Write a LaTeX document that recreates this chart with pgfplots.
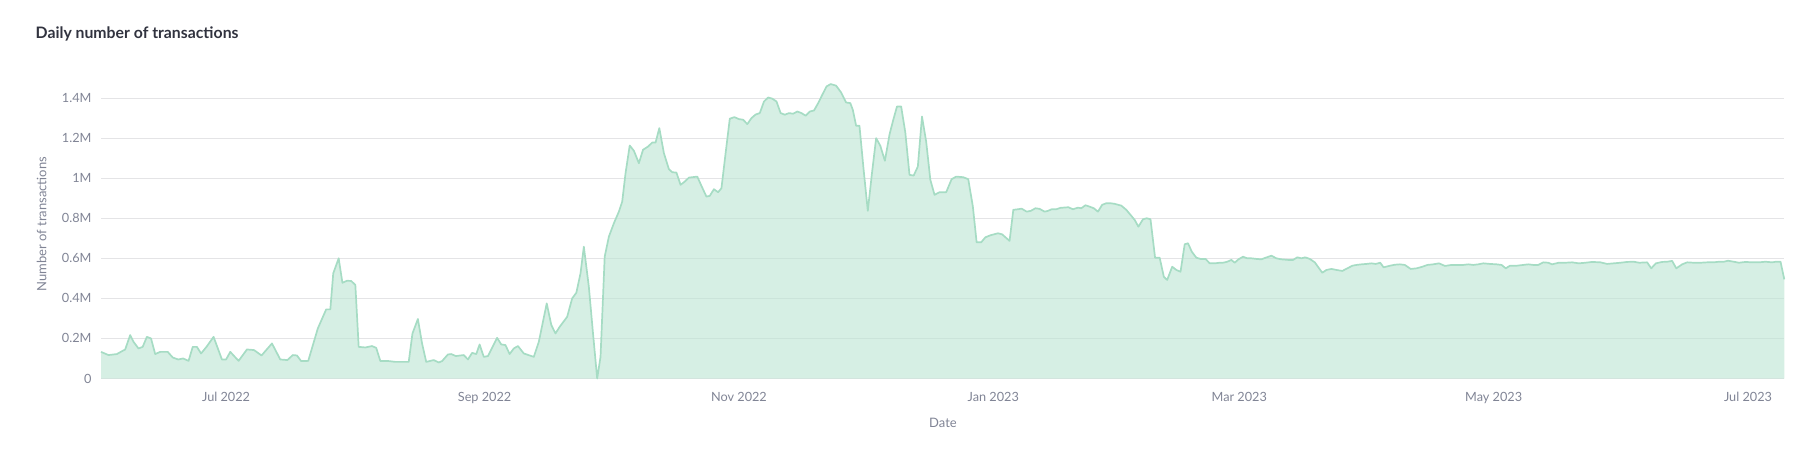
\documentclass[border=0pt]{standalone}
\usepackage{fontspec}
\setmainfont{Lato}
\usepackage{pgfplots}
\pgfplotsset{compat=1.18}
\usepackage{pgfplotstable}
\definecolor{titlec}{RGB}{49,51,63}
\definecolor{labc}{RGB}{128,132,149}
\definecolor{gridc}{RGB}{228,228,230}
\definecolor{fillc}{RGB}{187,228,210}
\definecolor{linec}{RGB}{166,220,196}

\pgfplotstableread{
day val
0 0.133
1.8 0.117
3.8 0.122
5.8 0.145
7 0.217
7.8 0.183
9 0.15
10 0.158
11 0.208
12 0.2
13 0.122
14.2 0.133
16 0.133
17.2 0.105
18.5 0.095
19.7 0.1
21 0.088
22 0.158
23 0.158
24 0.125
25.3 0.158
27 0.208
29 0.095
30 0.095
31 0.133
33 0.088
35 0.145
36.7 0.142
38.5 0.115
41 0.175
43 0.095
44.7 0.092
46 0.117
47 0.115
48 0.087
49.7 0.088
52 0.25
54 0.345
55 0.345
55.7 0.525
57 0.6
57.9 0.478
59 0.488
60 0.487
61 0.467
61.8 0.158
63.4 0.155
65 0.162
66 0.153
67 0.087
69 0.087
70.6 0.083
73.8 0.083
74.7 0.225
76 0.297
77 0.175
78 0.083
79.8 0.092
81 0.08
81.8 0.087
83.2 0.12
84 0.122
85.1 0.112
87 0.117
88 0.095
89 0.128
90 0.122
90.8 0.17
91.8 0.108
92.8 0.112
95 0.203
96 0.17
97 0.167
98 0.122
99 0.15
100 0.162
101.4 0.125
103.8 0.108
105 0.183
106.9 0.375
108 0.267
109 0.225
110 0.258
111.8 0.308
113 0.4
114 0.428
115 0.525
115.8 0.658
117 0.458
118 0.225
119 0.0
119.8 0.108
120.8 0.608
121.8 0.708
123 0.775
124.2 0.833
125 0.883
125.8 1.025
126.8 1.163
127.8 1.137
129 1.075
130 1.142
131.2 1.158
132.2 1.178
133 1.178
133.9 1.25
135 1.125
136.2 1.045
137 1.03
138 1.028
139 0.967
140 0.983
141 1.003
143 1.008
144 0.962
145.2 0.908
146 0.912
147 0.945
148 0.93
148.8 0.95
149.8 1.125
150.8 1.297
151.9 1.305
153 1.295
154 1.292
155 1.27
156 1.3
157 1.318
158 1.325
159 1.383
160 1.403
161 1.397
162 1.383
163 1.325
164 1.317
165 1.325
166 1.322
167 1.333
168 1.325
169 1.312
170 1.333
171 1.338
172 1.375
173 1.417
174 1.458
175 1.47
176.3 1.462
177.5 1.428
178.7 1.378
179.7 1.375
180.3 1.342
181.1 1.262
181.9 1.262
182.9 1.042
183.9 0.837
184.9 1.025
185.9 1.2
186.9 1.162
188 1.087
189.1 1.217
189.9 1.283
190.9 1.358
191.9 1.358
192.9 1.228
193.9 1.017
194.9 1.013
195.9 1.058
196.9 1.308
197.9 1.183
198.9 0.992
199.9 0.917
201.1 0.93
202.7 0.93
204 0.995
205.1 1.008
206.8 1.005
208 0.995
209.1 0.858
210 0.68
211.1 0.68
212.1 0.705
213.3 0.715
215.1 0.725
216.1 0.72
217.9 0.687
218.8 0.842
219.9 0.845
220.8 0.848
222 0.833
223 0.837
224.1 0.85
225.1 0.847
226.3 0.833
227.1 0.837
228 0.845
229.1 0.845
230.1 0.852
232 0.855
233.1 0.845
234.3 0.853
235.1 0.85
236.1 0.865
237.1 0.858
238.1 0.85
239.1 0.833
240.1 0.867
241.1 0.875
242.1 0.875
243.1 0.872
244.7 0.863
245.9 0.842
246.9 0.817
247.9 0.792
248.8 0.758
249.9 0.795
250.8 0.8
251.7 0.795
252.8 0.603
253.9 0.603
254.9 0.508
255.7 0.492
256.9 0.558
257.9 0.542
258.9 0.533
259.9 0.67
260.7 0.675
261.6 0.633
262.7 0.603
263.7 0.597
264.9 0.597
265.9 0.575
267.1 0.575
268.3 0.578
269.1 0.578
270.1 0.583
271.1 0.592
271.9 0.578
272.8 0.595
273.9 0.608
274.9 0.6
275.9 0.6
277.1 0.597
278.3 0.595
279.3 0.603
280.7 0.613
281.9 0.6
283.1 0.595
284.7 0.592
285.9 0.592
286.9 0.605
287.9 0.6
288.8 0.605
289.9 0.597
291.1 0.58
292.9 0.528
293.9 0.542
295.1 0.547
296.3 0.542
297.7 0.537
298.9 0.55
300.1 0.563
301.1 0.567
302.3 0.57
303.5 0.572
304.7 0.575
305.7 0.572
306.8 0.578
307.6 0.555
309.1 0.563
310.3 0.568
311.5 0.57
312.7 0.567
314.1 0.547
315.5 0.55
316.9 0.558
318.1 0.567
319.5 0.57
320.9 0.575
322.3 0.562
323.9 0.567
325.5 0.567
326.7 0.567
327.9 0.57
329.1 0.567
330.3 0.57
331.5 0.575
333.1 0.572
334.7 0.57
335.9 0.567
336.9 0.55
337.9 0.563
339.5 0.563
341.1 0.567
342.3 0.57
343.5 0.567
344.7 0.567
345.9 0.58
347.1 0.578
348 0.57
349.6 0.578
351.2 0.578
352.8 0.58
354.4 0.575
356 0.578
357.6 0.582
359.6 0.58
361.2 0.572
362.8 0.575
364.4 0.578
366 0.582
367.6 0.583
368.9 0.578
370.8 0.58
371.8 0.55
372.9 0.575
374.4 0.582
375.6 0.583
376.8 0.587
377.8 0.55
379.2 0.57
380.4 0.58
382 0.578
383.6 0.578
385.2 0.58
386.8 0.58
388 0.583
389.2 0.583
390.2 0.588
391.6 0.583
392.8 0.578
394.4 0.582
396 0.58
397.6 0.58
399.2 0.583
400.8 0.58
401.7 0.583
402.8 0.583
403.7 0.495
}\txdata

\begin{document}
\begin{tikzpicture}
\useasboundingbox (0pt,0pt) rectangle (1805pt,459pt);
\begin{axis}[
  at={(101pt,80.5pt)}, anchor=south west,
  scale only axis, width=1683.3pt, height=300.45pt,
  xmin=0, xmax=403.7, ymin=0, ymax=1.5,
  axis line style={draw=none},
  major tick length=0pt,
  xtick={30,92,153,214,273,334,395},
  xticklabels={Jul 2022,Sep 2022,Nov 2022,Jan 2023,Mar 2023,May 2023,Jul 2023},
  ytick={0,0.2,0.4,0.6,0.8,1,1.2,1.4},
  yticklabels={0,0.2M,0.4M,0.6M,0.8M,1M,1.2M,1.4M},
  ymajorgrids,
  grid style={gridc, line width=1pt},
  tick label style={font=\fontsize{12.7}{14}\selectfont, text=labc, inner sep=0pt},
  xticklabel style={anchor=base, yshift=-23.2pt},
  yticklabel style={anchor=east, xshift=-9.3pt},
  clip=false,
]
\addplot[fill=fillc, fill opacity=0.6, draw=none] table[x=day, y=val] {\txdata} \closedcycle;
\addplot[linec, line width=1.7pt, line join=round] table[x=day, y=val] {\txdata};
\end{axis}
\node[anchor=base west, inner sep=0pt, text=titlec, font=\fontsize{15.8}{18}\selectfont\bfseries] at (35.5pt,420pt) {Daily number of transactions};
\node[anchor=base, inner sep=0pt, rotate=90, text=labc, font=\fontsize{13}{15}\selectfont] at (46.4pt,234.8pt) {Number of transactions};
\node[anchor=base, inner sep=0pt, text=labc, font=\fontsize{13}{15}\selectfont] at (943pt,32pt) {Date};
\end{tikzpicture}
\end{document}
